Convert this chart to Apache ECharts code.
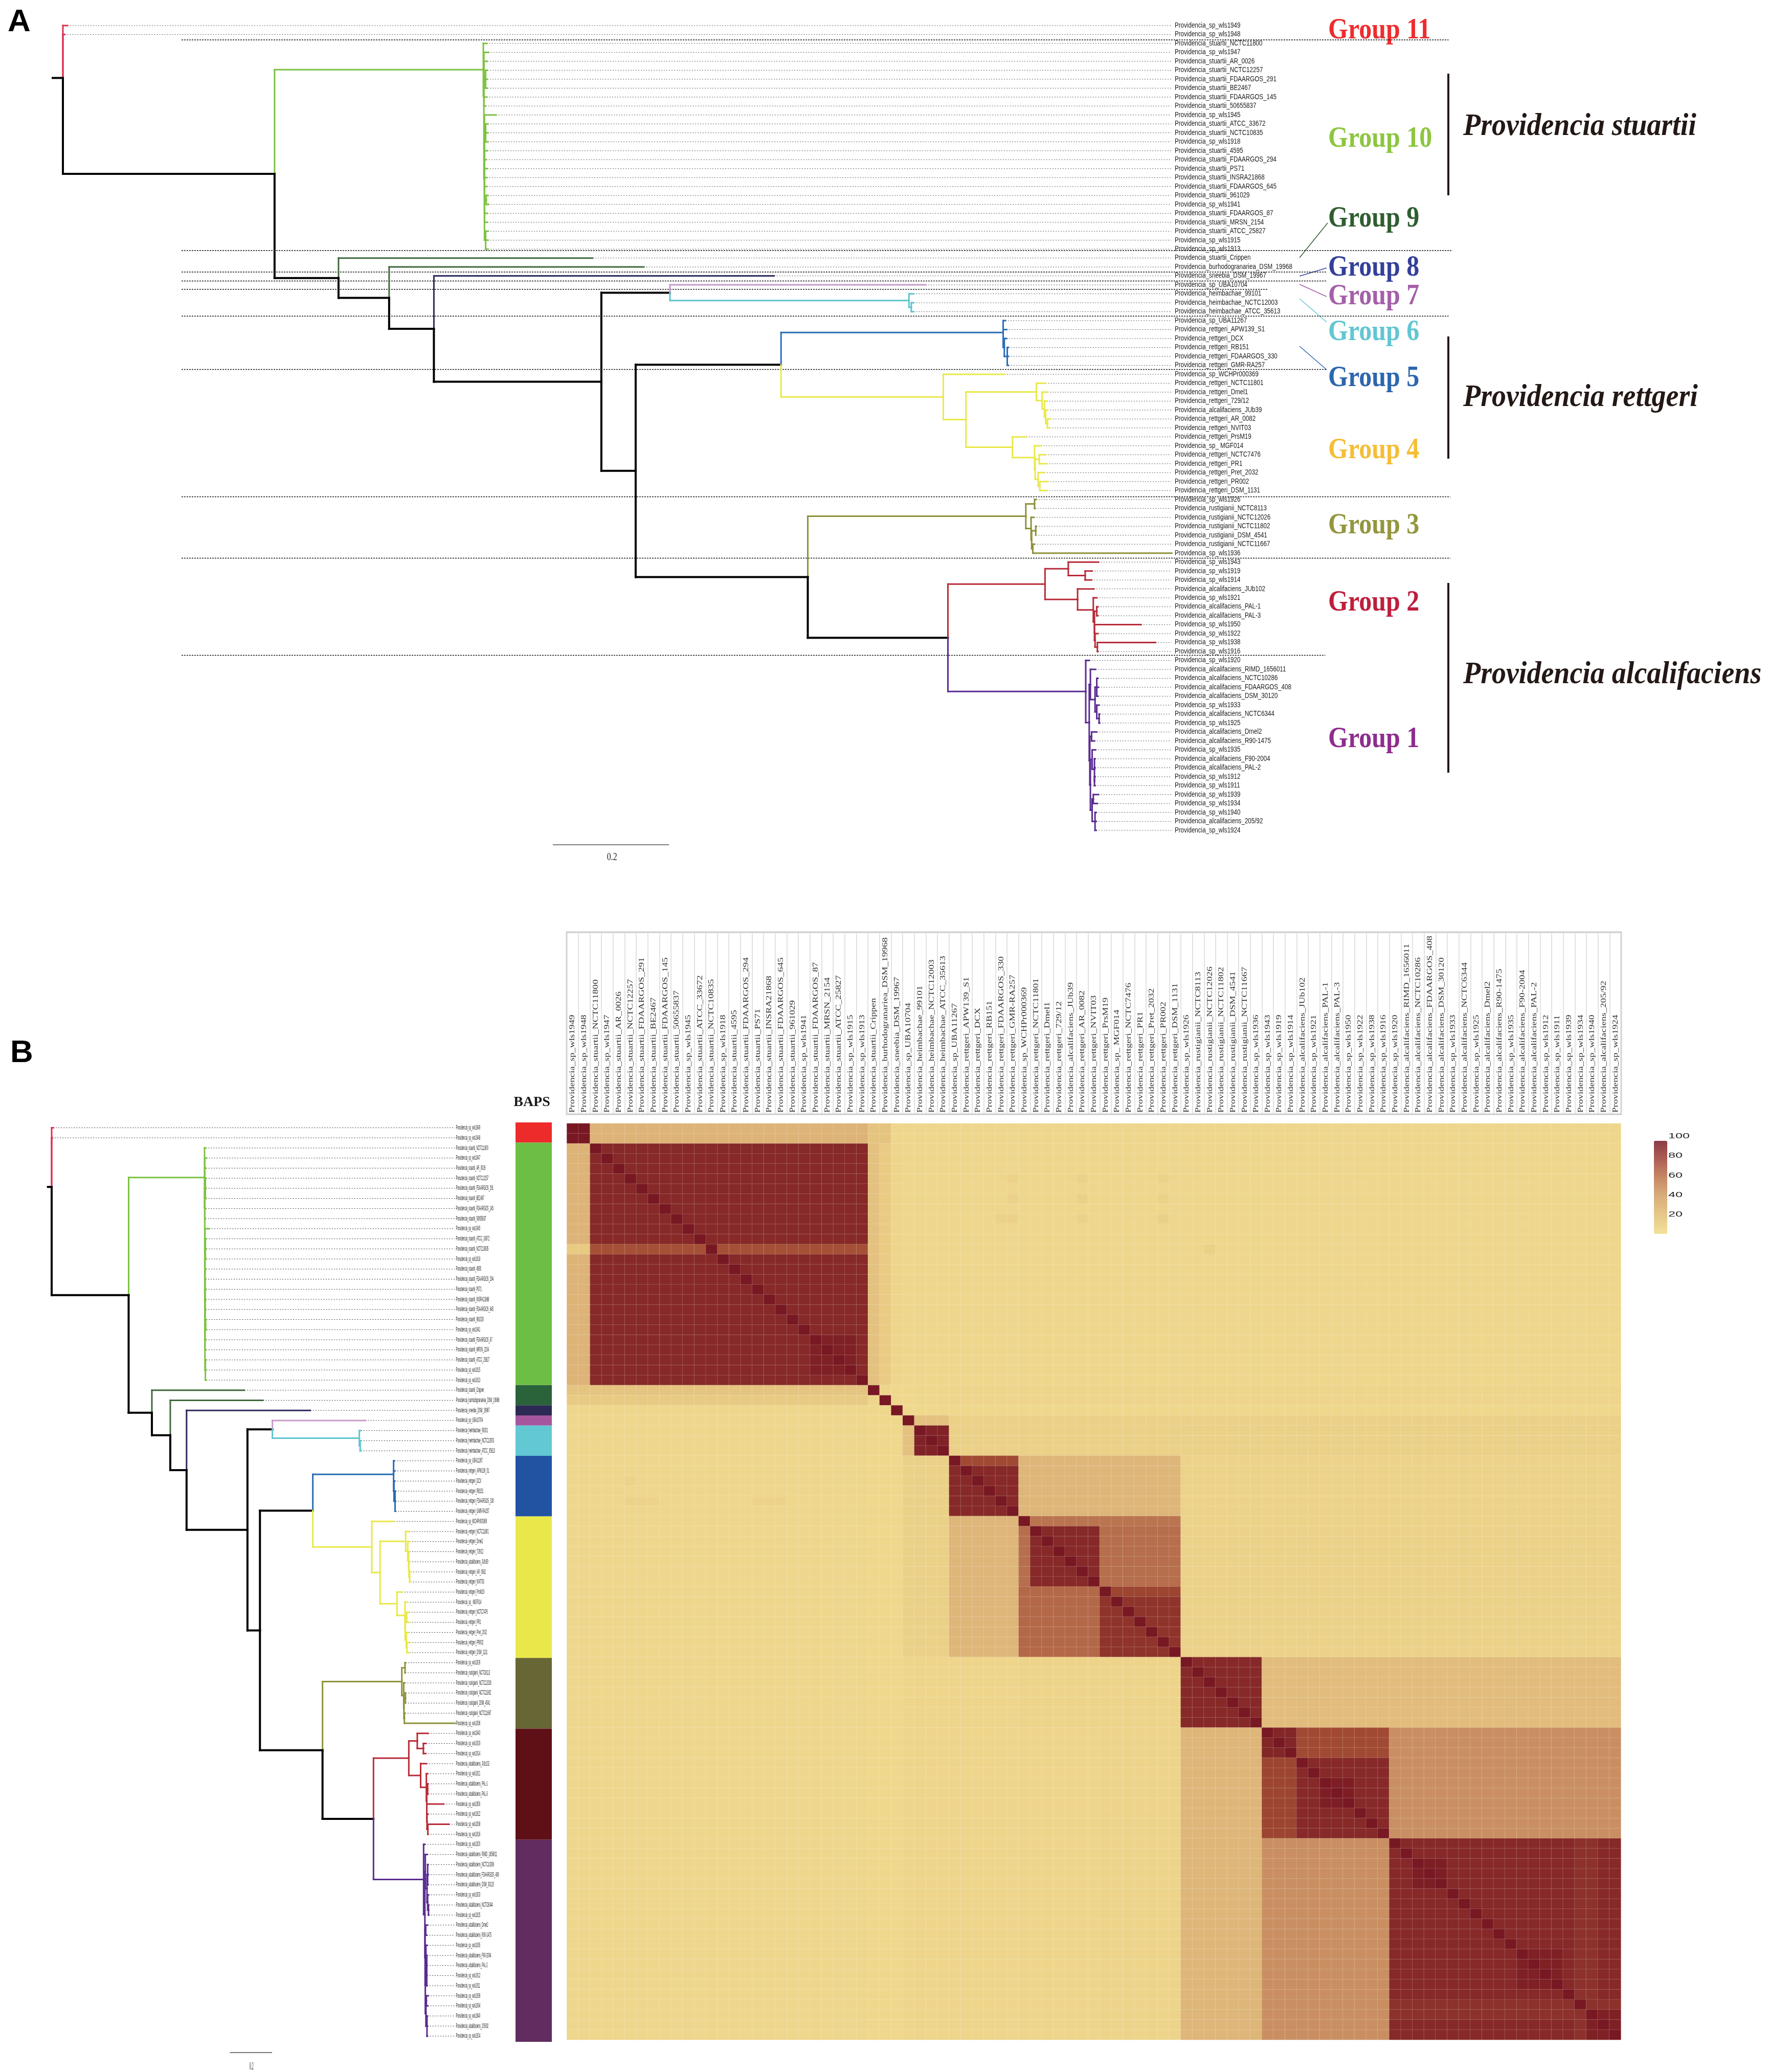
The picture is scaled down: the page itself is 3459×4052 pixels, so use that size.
<!DOCTYPE html>
<html>
<head>
<meta charset="utf-8">
<title>Providencia phylogeny and ANI heatmap</title>
<script src="https://cdn.jsdelivr.net/npm/echarts@6/dist/echarts.min.js"></script>
<style>
  html, body { margin: 0; padding: 0; background: #fff; }
  #chart { width: 3459px; height: 4052px; }
</style>
</head>
<body>
<div id="chart"></div>
<script>
// Strain names, same order in both trees and along both heatmap axes
const strains = [
  "sp_wls1949", "sp_wls1948", "stuartii_NCTC11800", "sp_wls1947", "stuartii_AR_0026", "stuartii_NCTC12257",
  "stuartii_FDAARGOS_291", "stuartii_BE2467", "stuartii_FDAARGOS_145", "stuartii_50655837", "sp_wls1945",
  "stuartii_ATCC_33672", "stuartii_NCTC10835", "sp_wls1918", "stuartii_4595", "stuartii_FDAARGOS_294",
  "stuartii_PS71", "stuartii_INSRA21868", "stuartii_FDAARGOS_645", "stuartii_961029", "sp_wls1941",
  "stuartii_FDAARGOS_87", "stuartii_MRSN_2154", "stuartii_ATCC_25827", "sp_wls1915", "sp_wls1913",
  "stuartii_Crippen", "burhodogranariea_DSM_19968", "sneebia_DSM_19967", "sp_UBA10704", "heimbachae_99101",
  "heimbachae_NCTC12003", "heimbachae_ATCC_35613", "sp_UBA11267", "rettgeri_APW139_S1", "rettgeri_DCX",
  "rettgeri_RB151", "rettgeri_FDAARGOS_330", "rettgeri_GMR-RA257", "sp_WCHPr000369", "rettgeri_NCTC11801",
  "rettgeri_Dmel1", "rettgeri_729/12", "alcalifaciens_JUb39", "rettgeri_AR_0082", "rettgeri_NVIT03",
  "rettgeri_PrsM19", "sp_ MGF014", "rettgeri_NCTC7476", "rettgeri_PR1", "rettgeri_Pret_2032", "rettgeri_PR002",
  "rettgeri_DSM_1131", "sp_wls1926", "rustigianii_NCTC8113", "rustigianii_NCTC12026", "rustigianii_NCTC11802",
  "rustigianii_DSM_4541", "rustigianii_NCTC11667", "sp_wls1936", "sp_wls1943", "sp_wls1919", "sp_wls1914",
  "alcalifaciens_JUb102", "sp_wls1921", "alcalifaciens_PAL-1", "alcalifaciens_PAL-3", "sp_wls1950", "sp_wls1922",
  "sp_wls1938", "sp_wls1916", "sp_wls1920", "alcalifaciens_RIMD_1656011", "alcalifaciens_NCTC10286",
  "alcalifaciens_FDAARGOS_408", "alcalifaciens_DSM_30120", "sp_wls1933", "alcalifaciens_NCTC6344", "sp_wls1925",
  "alcalifaciens_Dmel2", "alcalifaciens_R90-1475", "sp_wls1935", "alcalifaciens_F90-2004", "alcalifaciens_PAL-2",
  "sp_wls1912", "sp_wls1911", "sp_wls1939", "sp_wls1934", "sp_wls1940", "alcalifaciens_205/92", "sp_wls1924",
].map((s) => "Providencia_" + s);

// Branch colours (index used in the tree below)
const branchColors = ["#000000", "#E0304E", "#7DC242", "#41693F", "#2D2A5E", "#C79BC8", "#5FC5CE", "#2A6DB5", "#E9E84A", "#8E923A", "#B82C38", "#5B2C91"];
const [K, RED, GRN, DGR, NAV, MAU, CYA, BLU, YEL, OLI, CRI, PUR] = branchColors.map((c, i) => i);

// Tree clades: [distance from root, colour, ...children]. A node without children is a leaf.
const clade11 = [[0.008, RED], [0.003, RED]];
const clade10 = [0.723, GRN,
  [0.729, GRN],
  [0.724, GRN,
    [0.732, GRN], [0.730, GRN],
    [0.727, GRN, [0.730, GRN], [0.730, GRN], [0.730, GRN]],
    [0.729, GRN], [0.727, GRN],
    [0.725, GRN,
      [0.745, GRN],
      [0.727, GRN, [0.731, GRN], [0.731, GRN], [0.731, GRN]],
      [0.730, GRN], [0.728, GRN], [0.730, GRN], [0.729, GRN], [0.729, GRN],
      [0.728, GRN, [0.731, GRN], [0.732, GRN]],
      [0.730, GRN], [0.730, GRN],
      [0.727, GRN, [0.731, GRN], [0.731, GRN], [0.731, GRN]],
    ],
  ],
];
const cladeHeim = [1.044, K,
  [1.484, MAU],
  [1.455, CYA, [1.463, CYA], [1.459, CYA, [1.463, CYA], [1.463, CYA]]],
];
const clade5 = [1.617, BLU,
  [1.621, BLU], [1.623, BLU],
  [1.619, BLU, [1.623, BLU], [1.624, BLU, [1.626, BLU], [1.626, BLU], [1.626, BLU]]],
];
const clade4 = [1.514, YEL,
  [1.619, YEL],
  [1.553, YEL,
    [1.674, YEL, [1.690, YEL],
      [1.684, YEL, [1.693, YEL],
        [1.688, YEL, [1.692, YEL],
          [1.690, YEL, [1.693, YEL], [1.693, YEL, [1.698, YEL], [1.697, YEL]]]]]],
    [1.633, YEL, [1.657, YEL],
      [1.671, YEL, [1.682, YEL],
        [1.672, YEL,
          [1.679, YEL, [1.690, YEL], [1.692, YEL]],
          [1.677, YEL, [1.688, YEL], [1.680, YEL, [1.694, YEL], [1.692, YEL]]]]]],
  ],
];
const clade3 = [1.656, OLI,
  [1.671, OLI, [1.674, OLI], [1.672, OLI]],
  [1.665, OLI, [1.670, OLI],
    [1.666, OLI,
      [1.673, OLI, [1.674, OLI], [1.673, OLI]],
      [1.668, OLI, [1.671, OLI], [1.907, OLI]]]],
];
const clade2 = [1.689, CRI,
  [1.729, CRI, [1.781, CRI], [1.758, CRI, [1.770, CRI], [1.769, CRI]]],
  [1.745, CRI, [1.773, CRI],
    [1.772, CRI, [1.778, CRI],
      [1.774, CRI,
        [1.778, CRI, [1.780, CRI], [1.780, CRI]],
        [1.774, CRI, [1.854, CRI],
          [1.775, CRI, [1.780, CRI], [1.779, CRI, [1.879, CRI], [1.780, CRI]]]]]]],
];
const clade1 = [1.759, PUR,
  [1.765, PUR],
  [1.765, PUR,
    [1.767, PUR, [1.776, PUR],
      [1.775, PUR,
        [1.778, PUR, [1.780, PUR], [1.781, PUR], [1.780, PUR]],
        [1.778, PUR, [1.782, PUR], [1.782, PUR, [1.783, PUR], [1.783, PUR]]]]],
    [1.766, PUR,
      [1.769, PUR, [1.778, PUR], [1.774, PUR]],
      [1.767, PUR,
        [1.770, PUR, [1.776, PUR],
          [1.774, PUR, [1.775, PUR], [1.775, PUR], [1.774, PUR, [1.775, PUR], [1.775, PUR]]]],
        [1.770, PUR,
          [1.772, PUR, [1.781, PUR], [1.779, PUR]],
          [1.775, PUR, [1.777, PUR], [1.777, PUR], [1.777, PUR]]]]],
  ],
];
// Backbone joining the clades
const tree = [0, K, ...clade11,
  [0.364, K, clade10,
    [0.474, K, [0.911, DGR],
      [0.561, K, [0.999, DGR],
        [0.638, K, [1.223, NAV],
          [0.926, K, cladeHeim,
            [0.985, K,
              [1.235, K, clade5, clade4],
              [1.281, K, clade3, [1.522, K, clade2, clade1]]]]]]]],
];
const rootStub = -0.0176;
const leaderEnd = 1.906;
const labelDist = 1.912;
const scaleBar = [0.8425, 1.0425, 91.62];

// Dotted separators in panel A: row position, end distance
const separatorRows = [1.6, 25.16, 27.56, 28.57, 29.5, 32.5, 38.46, 52.7, 59.56, 70.42];
const separatorEnds = [2.383, 2.39, 2.173, 2.173, 2.073, 2.383, 2.173, 2.386, 2.386, 2.171];
const separatorStart = 0.204;

// Heatmap, read block by block: block sizes, then value of each block pair
const blockSizes = [2, 24, 2, 1, 1, 3, 6, 1, 6, 7, 7, 3, 8, 20];
const blockValues = [
  [100, 40, 28, 13, 13, 13, 13, 13, 13, 13, 13, 13, 13, 13],
  [40, 94, 30, 14, 13, 13, 13, 13, 13, 13, 13, 13, 13, 13],
  [28, 28, 14, 12, 12, 13, 14, 14, 14, 14, 14, 14, 14, 14],
  [13, 13, 12, 100, 12, 12, 12, 12, 12, 12, 12, 12, 12, 12],
  [13, 13, 12, 12, 100, 30, 19, 19, 19, 19, 18, 18, 18, 18],
  [13, 13, 12, 12, 30, 96, 19, 19, 19, 19, 18, 18, 18, 18],
  [13, 13, 12, 12, 18, 18, 94, 38, 38, 38, 16, 16, 16, 16],
  [13, 13, 12, 12, 18, 18, 38, 100, 68, 68, 16, 16, 16, 16],
  [13, 13, 12, 12, 18, 18, 38, 70, 94, 70, 17, 17, 17, 17],
  [13, 13, 12, 12, 18, 18, 38, 72, 72, 90, 17, 17, 17, 17],
  [13, 13, 12, 12, 14, 14, 14, 15, 15, 15, 94, 34, 34, 34],
  [13, 13, 12, 12, 14, 14, 14, 14, 14, 15, 38, 95, 82, 58],
  [13, 13, 12, 12, 14, 14, 14, 14, 14, 15, 38, 84, 94, 58],
  [13, 13, 12, 12, 14, 14, 14, 14, 14, 15, 38, 58, 58, 94],
];
// Smaller patches seen inside the blocks: row from, row to, col from, col to, value
const heatPatches = [
  [12, 13, 2, 26, 80], [12, 13, 0, 2, 24], [2, 26, 27, 28, 23], [27, 28, 0, 26, 24],
  [33, 34, 34, 39, 82], [21, 25, 21, 25, 97], [46, 47, 47, 53, 84],
  [65, 68, 65, 68, 98], [73, 76, 73, 76, 98], [82, 86, 82, 86, 97],
  [87, 89, 71, 91, 91], [71, 91, 87, 89, 91], [88, 91, 88, 91, 97],
  [5, 6, 38, 39, 17], [5, 6, 44, 45, 17], [7, 8, 38, 39, 17], [7, 8, 44, 45, 18],
  [9, 10, 37, 39, 17], [9, 10, 44, 45, 17], [35, 36, 5, 6, 16], [37, 38, 5, 8, 16],
  [37, 38, 16, 19, 16], [12, 13, 55, 56, 19], [5, 6, 51, 52, 17], [7, 8, 51, 52, 17], [9, 10, 51, 52, 18],
];
const heatStops = ["#F3DF92", "#E8CA83", "#DBAF75", "#C4865D", "#A34D34", "#781822"];
const legendStops = ["#F3E29A", "#E6C88A", "#D9AE7C", "#C88A66", "#AE5F55", "#8C3B45"];
const legendTicks = ["100", "80", "60", "40", "20"];

// BAPS colour bar
const bapsSizes = [2, 24, 2, 1, 1, 3, 6, 14, 7, 11, 20];
const bapsColors = ["#EE2B2B", "#6DBE45", "#2A623A", "#2C2A55", "#A6559F", "#62C8D3", "#2253A3", "#E9E84A", "#676635", "#5E1016", "#612C60"];

// Annotations of panel A
const groupNames = ["Group 11", "Group 10", "Group 9", "Group 8", "Group 7", "Group 6", "Group 5", "Group 4", "Group 3", "Group 2", "Group 1"];
const groupColors = ["#EE2D2F", "#8CC63F", "#2F5E30", "#33409A", "#A45FA8", "#62C6D2", "#2D66AF", "#F4BE36", "#94963F", "#BE1E3C", "#8E2D8E"];
const groupCenters = [61, 273, 429, 525, 581, 651, 741, 882, 1029, 1180, 1447];
const speciesNames = ["Providencia stuartii", "Providencia rettgeri", "Providencia alcalifaciens"];
const speciesCenters = [248, 778, 1320];
const speciesBars = [[144, 382], [658, 897], [1140, 1511]];
const connectors = [
  [2541, 504, 2596, 436, 2], [2541, 540, 2594, 524, 3], [2541, 556, 2594, 580, 4],
  [2541, 584, 2594, 630, 5], [2541, 677, 2594, 723, 6],
];

// ---- lay the tree out: a node's row is the mean of its children's rows
let leafCounter = 0;
function layout(n) {
  const kids = n.slice(2).map(layout);
  const row = kids.length ? kids.reduce((s, k) => s + k.row, 0) / kids.length : leafCounter++;
  return { x: n[0], color: n[1], kids, row };
}
const rootNode = layout(tree);
const branchRows = [[rootStub, rootNode.row, 0, rootNode.row, K]];
const leaderRows = [];
(function emit(node) {
  node.kids.forEach((k) => {
    branchRows.push([node.x, node.row, node.x, k.row, k.color]);
    branchRows.push([node.x, k.row, k.x, k.row, k.color]);
    emit(k);
  });
  if (!node.kids.length) leaderRows.push([node.x, node.row, leaderEnd, node.row, K]);
})(rootNode);

// ---- expand the blocks into cells
const blockOf = [];
blockSizes.forEach((n, b) => { for (let i = 0; i < n; i++) blockOf.push(b); });
const matrix = blockOf.map((rb) => blockOf.map((cb) => blockValues[rb][cb]));
heatPatches.forEach(([r0, r1, c0, c1, v]) => {
  for (let r = r0; r < r1; r++) for (let c = c0; c < c1; c++) matrix[r][c] = v;
});
const heatData = [];
matrix.forEach((row, r) => row.forEach((v, c) => heatData.push([c, r, r === c ? 100 : v])));

// ---- helpers
function segmentSeries(axis, rows, style, blackExtra) {
  return {
    type: "custom",
    coordinateSystem: "cartesian2d",
    xAxisIndex: axis,
    yAxisIndex: axis,
    silent: true,
    encode: { x: [0, 2], y: [1, 3] },
    data: rows,
    renderItem: function (params, api) {
      const a = api.coord([api.value(0), api.value(1)]);
      const b = api.coord([api.value(2), api.value(3)]);
      const s = Object.assign({ stroke: branchColors[api.value(4)], lineCap: "square" }, style);
      if (blackExtra && api.value(4) === K) s.lineWidth += blackExtra;
      return {
        type: "line",
        shape: { x1: a[0], y1: a[1], x2: b[0], y2: b[1] },
        style: s,
      };
    },
  };
}

function textSeries(axis, rows, texts, font, scaleX, fill) {
  return {
    type: "custom",
    coordinateSystem: "cartesian2d",
    xAxisIndex: axis,
    yAxisIndex: axis,
    silent: true,
    encode: { x: 0, y: 1 },
    data: rows,
    renderItem: function (params, api) {
      const p = api.coord([api.value(0), api.value(1)]);
      return {
        type: "text",
        x: p[0],
        y: p[1],
        scaleX: scaleX,
        style: { text: texts[params.dataIndex], font: font, fill: fill, align: "left", verticalAlign: "middle" },
      };
    },
  };
}

function hiddenValue(min, max, inverse, gridIndex) {
  return { type: "value", gridIndex, min, max, inverse: !!inverse, show: false };
}

function treeSeries(axis, branchWidth, dash, leaderColor, labelFont, labelScale, barColor, barWidth, barFont, barScale) {
  return [
    segmentSeries(axis, leaderRows, { stroke: leaderColor, lineWidth: 1, lineDash: dash, lineCap: "butt" }),
    segmentSeries(axis, branchRows, { lineWidth: branchWidth }, 1),
    textSeries(axis, strains.map((s, i) => [labelDist, i]), strains, labelFont, labelScale, "#1a1a1a"),
    segmentSeries(axis, [[scaleBar[0], scaleBar[2], scaleBar[1], scaleBar[2], K]], { stroke: barColor, lineWidth: barWidth, lineCap: "butt" }),
    textSeries(axis, [[(scaleBar[0] + scaleBar[1]) / 2 - 0.007, 93]], ["0.2"], barFont, barScale, "#222"),
  ];
}

// ---- graphic texts
const serifBold = 'bold 50px "Liberation Serif"';
const graphics = [];
function addText(x, y, text, font, fill, align, scaleX, scaleY) {
  graphics.push({
    type: "text", x, y, scaleX: scaleX || 1, scaleY: scaleY || 1, silent: true,
    style: { text, font, fill, align: align || "left", verticalAlign: "middle" },
  });
}
addText(15, 44, "A", 'bold 62px "Liberation Sans"', "#000");
addText(20, 2060, "B", 'bold 62px "Liberation Sans"', "#000");
addText(1040, 2156, "BAPS", 'bold 28px "Liberation Serif"', "#1a1a1a", "center");
groupNames.forEach((g, i) => addText(2597, groupCenters[i], g, serifBold, groupColors[i], "left", 1, 1.12));
speciesNames.forEach((s, i) => {
  addText(2861, speciesCenters[i], s, 'italic bold 56px "Liberation Serif"', "#231815", "left", 1, 1.1);
  graphics.push({
    type: "rect", silent: true,
    shape: { x: 2830, y: speciesBars[i][0], width: 4, height: speciesBars[i][1] - speciesBars[i][0] },
    style: { fill: "#231815" },
  });
});
connectors.forEach(([x1, y1, x2, y2, g]) => {
  graphics.push({
    type: "line", silent: true,
    shape: { x1, y1, x2, y2 },
    style: { stroke: groupColors[g], lineWidth: 1.5 },
  });
});
legendTicks.forEach((t, i) => addText(3262, 2222 + i * 38.4, t, '14px "Liberation Sans"', "#222", "left", 1.8));

// ---- option
const stripAxis = { axisLabel: { show: false }, axisTick: { show: false }, axisLine: { show: false } };
const option = {
  animation: false,
  backgroundColor: "#fff",
  grid: [
    { left: 9.3, top: 15, width: 2842.5, height: 1670 },     // tree A
    { left: 59.65, top: 2166, width: 951, height: 1885 },    // tree B
    { left: 1108, top: 1823, width: 2062, height: 356, show: true, borderColor: "#ccc", borderWidth: 3 }, // name table
    { left: 1108.4, top: 2197, width: 2061, height: 1792 },  // heatmap
    { left: 1008, top: 2195, width: 71, height: 1798 },      // BAPS bar
  ],
  xAxis: [
    hiddenValue(-0.1, 2.4, false, 0),
    hiddenValue(-0.1, 2.2, false, 1),
    Object.assign({
      type: "category", gridIndex: 2, data: strains,
      splitLine: { show: true, interval: 0, lineStyle: { color: "#d9d9d9", width: 1.5 } },
    }, stripAxis),
    { type: "category", gridIndex: 3, data: strains, show: false },
    { type: "category", gridIndex: 4, data: ["BAPS"], show: false },
  ],
  yAxis: [
    hiddenValue(-2, 93.5, true, 0),
    hiddenValue(-2, 93.5, true, 1),
    hiddenValue(0, 1, false, 2),
    { type: "category", gridIndex: 3, data: strains, inverse: true, show: false },
    hiddenValue(0, 91, true, 4),
  ],
  visualMap: {
    type: "continuous",
    seriesIndex: 0,
    min: 5,
    max: 100,
    left: 3219,
    top: 2216,
    itemWidth: 26,
    itemHeight: 182,
    calculable: false,
    text: null,
    inRange: { color: heatStops },
    controller: { inRange: { color: legendStops } },
  },
  graphic: { elements: graphics },
  series: [
    {
      type: "heatmap",
      xAxisIndex: 3,
      yAxisIndex: 3,
      data: heatData,
      progressive: 0,
      silent: true,
      itemStyle: { borderColor: "rgba(255,255,255,0.18)", borderWidth: 1 },
    },
    ...bapsSizes.map((n, i) => ({
      type: "bar",
      xAxisIndex: 4,
      yAxisIndex: 4,
      stack: "baps",
      barWidth: "100%",
      data: [n],
      silent: true,
      itemStyle: { color: bapsColors[i] },
    })),
    // panel A
    segmentSeries(0, separatorRows.map((r, i) => [separatorStart, r, separatorEnds[i], r, K]), { lineWidth: 1.5, lineDash: [3, 2], lineCap: "butt", stroke: "#111" }),
    ...treeSeries(0, 3, [2, 3], "#555", '14px "Liberation Sans"', 0.83, "#555", 1.5, '21px "Liberation Serif"', 0.76),
    // panel B
    ...treeSeries(1, 3, [2, 3], "#333", '13px "Liberation Sans"', 0.33, "#777", 2, '21px "Liberation Serif"', 0.3),
    // name table above the heatmap
    {
      type: "custom",
      coordinateSystem: "cartesian2d",
      xAxisIndex: 2,
      yAxisIndex: 2,
      silent: true,
      encode: { x: 0, y: 1 },
      data: strains.map((s, i) => [i, 0]),
      renderItem: function (params, api) {
        const p = api.coord([api.value(0), api.value(1)]);
        return {
          type: "text",
          x: p[0],
          y: p[1] - 3,
          rotation: Math.PI / 2,
          scaleX: 1.27,
          style: { text: strains[params.dataIndex], font: '15px "Liberation Serif"', fill: "#333", align: "left", verticalAlign: "middle" },
        };
      },
    },
  ],
};

const chart = echarts.init(document.getElementById("chart"), null, { renderer: "canvas" });
chart.setOption(option);
</script>
</body>
</html>
